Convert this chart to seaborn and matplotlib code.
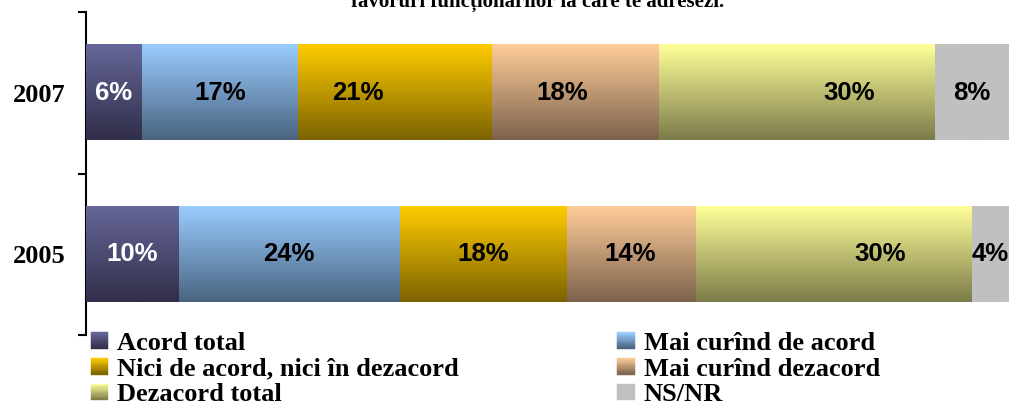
import numpy as np
import pandas as pd
import matplotlib
matplotlib.use("Agg")
import matplotlib.pyplot as plt
import seaborn as sns
from matplotlib.colors import to_rgb
from matplotlib.legend_handler import HandlerBase
from matplotlib.patches import Rectangle

years = ["2007", "2005"]
categories = ["Acord total", "Mai curînd de acord", "Nici de acord, nici în dezacord",
              "Mai curînd dezacord", "Dezacord total", "NS/NR"]
values_2007 = [6, 17, 21, 18, 30, 8]
values_2005 = [10, 24, 18, 14, 30, 4]
title_text = "favoruri funcționarilor la care te adresezi."

# gradient colours, light at the top of the bar, dark at the bottom
top_colors = ["#666699", "#99ccff", "#ffcc00", "#ffcc99", "#ffff99", "#c0c0c0"]
bottom_colors = ["#312f4a", "#4a6480", "#7c6300", "#7c634c", "#7c7c4a", "#c0c0c0"]
label_colors = ["white", "black", "black", "black", "black", "black"]
# small horizontal nudges of some value labels (percent units), as in the original
label_shift = {"2007": [0, 0, -4, -1.4, 5.7, 0], "2005": [0, 0, 0, 0, 5, 0]}

rows = []
for year, vals in zip(years, [values_2007, values_2005]):
    end = np.cumsum(vals)
    for cat, v, e in zip(categories, vals, end):
        rows.append({"year": year, "category": cat, "value": v, "end": e, "start": e - v})
df = pd.DataFrame(rows)

sns.set_style("white")
plt.rcParams["font.family"] = ["Liberation Serif", "DejaVu Serif"]
plt.rcParams["text.color"] = "black"
plt.rcParams["ytick.labelcolor"] = "black"

fig = plt.figure(figsize=(10.09, 4.07), dpi=100)
ax = fig.add_axes([86 / 1009, 72 / 407, 923 / 1009, 323 / 407])


def gradient(top, bottom, n=64):
    t = np.linspace(0, 1, n)[:, None]
    return (np.array(to_rgb(top)) * (1 - t) + np.array(to_rgb(bottom)) * t)[:, None, :]


# stacked bars: cumulative totals drawn from the last category back to the first
for i in reversed(range(len(categories))):
    cat = categories[i]
    sub = df[df["category"] == cat]
    n0 = len(ax.patches)
    sns.barplot(data=sub, x="end", y="year", order=years, orient="h", color=top_colors[i],
                saturation=1, width=0.59, errorbar=None, ax=ax)
    for patch, year in zip(ax.patches[n0:], years):
        r = sub[sub["year"] == year].iloc[0]
        y0, h = patch.get_y(), patch.get_height()
        ax.imshow(gradient(top_colors[i], bottom_colors[i]), extent=(r["start"], r["end"], y0 + h, y0),
                  origin="upper", aspect="auto", interpolation="bilinear", zorder=3)
        ax.text(r["start"] + r["value"] / 2 + label_shift[year][i], y0 + h / 2, f"{r['value']}%",
                ha="center", va="center", fontsize=18.5, fontweight="bold",
                family=["Liberation Sans", "DejaVu Sans"], color=label_colors[i], zorder=4)

ax.set_xlim(0, 100)
ax.set_ylim(1.5, -0.5)
ax.set_xlabel("")
ax.set_ylabel("")
ax.set_xticks([])
ax.set_yticks([-0.5, 0.5, 1.5])
ax.set_yticklabels([])
ax.set_yticks([0, 1], minor=True)
ax.set_yticklabels(years, minor=True, fontsize=19, fontweight="bold", color="black")
ax.tick_params(axis="y", which="major", left=True, length=6, width=1.5, color="black",
               direction="out")
ax.tick_params(axis="y", which="minor", left=True, length=0, pad=15)
for side in ["top", "right", "bottom"]:
    ax.spines[side].set_visible(False)
ax.spines["left"].set_color("black")
ax.spines["left"].set_linewidth(1.5)


class GradientHandler(HandlerBase):
    def __init__(self, top, bottom, steps=14):
        super().__init__()
        self.top = np.array(to_rgb(top))
        self.bottom = np.array(to_rgb(bottom))
        self.steps = steps

    def create_artists(self, legend, orig_handle, xdescent, ydescent, width, height, fontsize, trans):
        arts = []
        for k in range(self.steps):
            c = self.top * (1 - k / (self.steps - 1)) + self.bottom * k / (self.steps - 1)
            y = -ydescent + height * (1 - (k + 1) / self.steps)
            arts.append(Rectangle((-xdescent, y), width, height / self.steps, facecolor=c,
                                  edgecolor=c, lw=0.3, transform=trans))
        return arts


handles = [Rectangle((0, 0), 1, 1) for _ in categories]
hmap = {h: GradientHandler(t, b) for h, t, b in zip(handles, top_colors, bottom_colors)}
order = [0, 2, 4, 1, 3, 5]
fig.legend([handles[k] for k in order], [categories[k] for k in order], handler_map=hmap,
           ncol=2, loc="upper left", bbox_to_anchor=(91 / 1009, 1 - 332 / 407), frameon=False,
           prop={"size": 19, "weight": "bold"}, labelcolor="black", handlelength=0.65,
           handleheight=0.6, handletextpad=0.35, labelspacing=0.1, columnspacing=6.0,
           borderpad=0, borderaxespad=0)

fig.text(538 / 1009, 1 - 7 / 407, title_text, ha="center", va="baseline", fontsize=15,
         fontweight="bold", color="black")

fig.savefig("out.png", dpi=100)
